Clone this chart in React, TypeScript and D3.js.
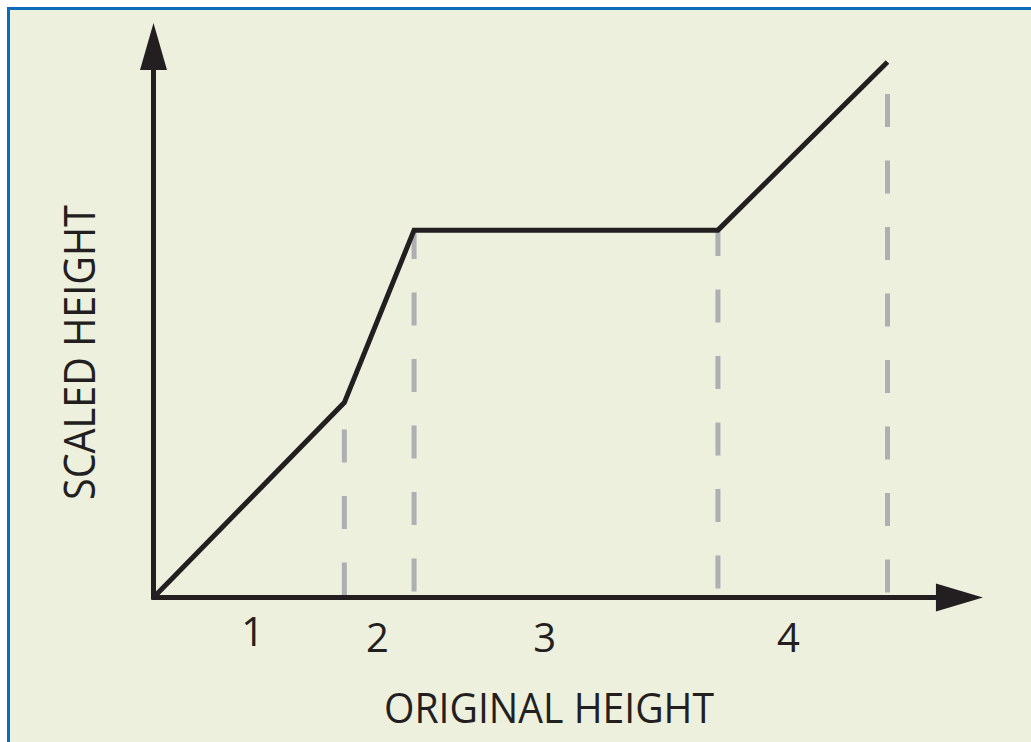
import React from "react";
import * as d3 from "d3";

// Breakpoints of the piecewise scaling curve (original height -> scaled height)
const originalHeights = [0, 26, 35.5, 76.9, 100];
const scaledHeights = [0, 36.4, 68.6, 68.6, 100];

// Region labels along the x axis
const regionLabels = ["1", "2", "3", "4"];
const regionLabelX = [13.5, 30.5, 53.3, 86.5];

// Dashed guide lines at the breakpoints (indices into the arrays above)
const guideIndices = [1, 2, 3, 4];
const guideOffsets = [-2, -6, -9, -5];

const xAxisMax = 113;
const yAxisMax = 107.3;

const W = 1031;
const H = 742;

export default function App() {
  const x = d3.scaleLinear().domain([0, 100]).range([153.5, 887.5]);
  const y = d3.scaleLinear().domain([0, 100]).range([597.5, 62]);

  const pts: [number, number][] = originalHeights.map((v, i) => [v, scaledHeights[i]]);
  const line = d3
    .line<[number, number]>()
    .x((d) => x(d[0]))
    .y((d) => y(d[1]));

  const ink = "#231f20";
  const font = "'Open Sans', 'Noto Sans', sans-serif";

  const x0 = x(0);
  const y0 = y(0);
  const xTip = x(xAxisMax);
  const yTip = y(yAxisMax);
  const headLen = 47;
  const headHalf = 14;

  return (
    <svg
      width={W}
      height={H}
      style={{ position: "absolute", left: 0, top: 0, display: "block" }}
    >
      <rect x={0} y={0} width={W} height={H} fill="#ffffff" />
      <rect
        x={8.5}
        y={8.5}
        width={W + 50}
        height={H + 50}
        fill="#eef0de"
        stroke="#0b6db7"
        strokeWidth={3}
      />

      {/* dashed guides */}
      {guideIndices.map((gi, k) => (
        <line
          key={"g" + k}
          x1={x(originalHeights[gi])}
          x2={x(originalHeights[gi])}
          y1={y0}
          y2={y(scaledHeights[gi])}
          stroke="#aeafb2"
          strokeWidth={5}
          strokeDasharray="33,33.5"
          strokeDashoffset={guideOffsets[k]}
        />
      ))}

      {/* axes */}
      <line x1={x0} x2={x0} y1={y0 + 2} y2={yTip + headLen - 1} stroke={ink} strokeWidth={5} />
      <path
        d={`M${x0},${yTip} L${x0 + headHalf - 0.5},${yTip + headLen} L${x0 - headHalf + 0.5},${yTip + headLen} Z`}
        fill={ink}
      />
      <line x1={x0 - 2} x2={xTip - headLen + 1} y1={y0} y2={y0} stroke={ink} strokeWidth={5} />
      <path
        d={`M${xTip},${y0} L${xTip - headLen},${y0 - headHalf} L${xTip - headLen},${y0 + headHalf} Z`}
        fill={ink}
      />

      {/* scaling curve */}
      <path d={line(pts) || ""} fill="none" stroke={ink} strokeWidth={5} strokeLinejoin="miter" />

      {/* region labels */}
      {regionLabels.map((t, i) => (
        <text
          key={"r" + i}
          x={x(regionLabelX[i])}
          y={i === 0 ? 646 : 652}
          textAnchor="middle"
          fontFamily={font}
          fontSize={40}
          fill={ink}
        >
          {t}
        </text>
      ))}

      {/* axis titles */}
      <text
        x={384}
        y={723}
        fontFamily={font}
        fontSize={42}
        fill={ink}
        textLength={330}
        lengthAdjust="spacingAndGlyphs"
      >
        ORIGINAL HEIGHT
      </text>
      <text
        transform="translate(95,500) rotate(-90)"
        x={0}
        y={0}
        fontFamily={font}
        fontSize={44}
        fill={ink}
        textLength={295}
        lengthAdjust="spacingAndGlyphs"
      >
        SCALED HEIGHT
      </text>
    </svg>
  );
}
